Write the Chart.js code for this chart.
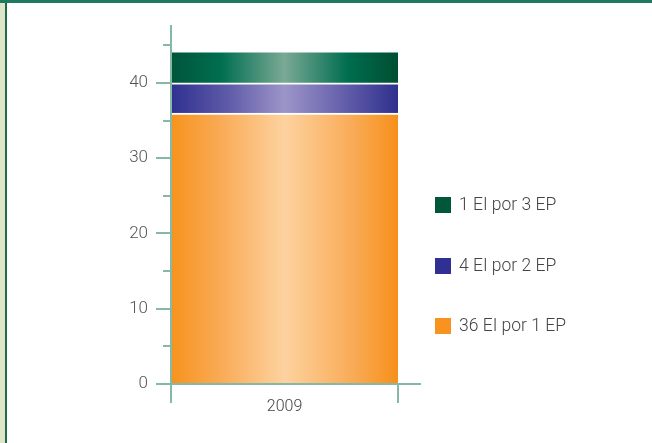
<!DOCTYPE html>
<html>
<head>
<meta charset="utf-8">
<script src="https://cdn.jsdelivr.net/npm/chart.js@4/dist/chart.umd.min.js"></script>
<style>
  html, body { margin: 0; padding: 0; background: #ffffff; }
  #wrap { width: 652px; height: 443px; position: relative; }
</style>
</head>
<body>
<div id="wrap"><canvas id="c" width="652" height="443"></canvas></div>
<script>
// Categories and series
const years = ['2009'];
const seriesLabels = ['36 EI por 1 EP', '4 EI por 2 EP', '1 EI por 3 EP'];
const ei36por1 = [36];
const ei4por2 = [4];
const ei1por3 = [4];
const yTickValues = [0, 5, 10, 15, 20, 25, 30, 35, 40, 45];

const AXIS = '#86b9a5';
const FONT = 'Roboto, "Liberation Sans", sans-serif';

// Horizontal shading across the bar: dark edges, light centre
function shade(stops) {
  return function (ctx) {
    const area = ctx.chart.chartArea;
    if (!area) return stops[0][1];
    const g = ctx.chart.ctx.createLinearGradient(area.left, 0, area.right, 0);
    stops.forEach(s => g.addColorStop(s[0], s[1]));
    return g;
  };
}

const orangeFill = shade([[0, '#f7931e'], [0.2, '#f9a851'], [0.5, '#fdd29f'], [0.8, '#f9ab57'], [1, '#f7901a']]);
const blueFill = shade([[0, '#2f3190'], [0.25, '#5f5aa8'], [0.5, '#9c95c9'], [0.75, '#6761ac'], [1, '#2e308d']]);
const greenFill = shade([[0, '#00553a'], [0.22, '#006e50'], [0.5, '#7aa995'], [0.78, '#006d4f'], [1, '#004e31']]);

// Page frame: green band on top, pale strip with a dark rule on the left
const framePlugin = {
  id: 'frame',
  beforeDraw(chart) {
    const c = chart.ctx;
    c.save();
    c.fillStyle = '#ffffff';
    c.fillRect(0, 0, chart.width, chart.height);
    c.fillStyle = '#dee5c9';
    c.fillRect(0, 0, 5, chart.height);
    c.fillStyle = '#1f6b47';
    c.fillRect(5, 0, 2, chart.height);
    c.fillStyle = '#1f7a5f';
    c.fillRect(0, 0, chart.width, 3);
    c.restore();
  }
};

// Axis lines and tick marks drawn from the scales
const axesPlugin = {
  id: 'axesLines',
  afterDatasetsDraw(chart) {
    const c = chart.ctx;
    const y = chart.scales.y;
    const area = chart.chartArea;
    const y0 = y.getPixelForValue(0);
    const xl = area.left, xr = area.right;
    c.save();
    c.strokeStyle = AXIS;
    c.lineWidth = 2;
    c.beginPath();
    // y axis
    c.moveTo(xl, area.top);
    c.lineTo(xl, y0 + 19);
    // x axis
    c.moveTo(xl - 15, y0);
    c.lineTo(xr + 23, y0);
    // category boundary tick at right
    c.moveTo(xr, y0);
    c.lineTo(xr, y0 + 19);
    // y ticks
    y.ticks.forEach(t => {
      if (t.value === 0) return;
      const py = Math.round(y.getPixelForValue(t.value));
      const len = (t.value % 10 === 0) ? 15 : 8;
      c.moveTo(xl - len, py);
      c.lineTo(xl, py);
    });
    c.stroke();
    c.restore();
  }
};

// Legend at the right, top series first
const legendPlugin = {
  id: 'sideLegend',
  afterDraw(chart) {
    const c = chart.ctx;
    const swatch = ['#f7931e', '#2e3192', '#00573a'];
    const rows = [326, 266, 205];
    c.save();
    c.font = '300 17.5px ' + FONT;
    c.textBaseline = 'middle';
    chart.data.datasets.forEach((ds, i) => {
      const cy = rows[i];
      c.fillStyle = swatch[i];
      c.fillRect(435, cy - 8, 16, 16);
      c.fillStyle = '#444444';
      c.fillText(ds.label, 459, cy + 1);
    });
    c.restore();
  }
};

new Chart(document.getElementById('c'), {
  type: 'bar',
  data: {
    labels: years,
    datasets: [
      { label: seriesLabels[0], data: ei36por1, backgroundColor: orangeFill,
        borderColor: '#ffffff', borderWidth: { top: 2, left: 0, right: 0, bottom: 0 }, borderSkipped: false },
      { label: seriesLabels[1], data: ei4por2, backgroundColor: blueFill,
        borderColor: '#ffffff', borderWidth: { top: 2, left: 0, right: 0, bottom: 0 }, borderSkipped: false },
      { label: seriesLabels[2], data: ei1por3, backgroundColor: greenFill, borderWidth: 0 }
    ]
  },
  options: {
    responsive: false,
    animation: false,
    layout: { padding: { left: 0, right: 254, top: 25, bottom: 0 } },
    datasets: { bar: { categoryPercentage: 1, barPercentage: 1 } },
    plugins: { legend: { display: false }, tooltip: { enabled: false } },
    scales: {
      x: {
        stacked: true,
        grid: { display: false, drawTicks: false },
        border: { display: false },
        ticks: { color: '#444444', font: { family: FONT, size: 16, weight: '300' }, padding: 13 },
        afterFit(s) { s.height = 59; s.paddingLeft = 0; s.paddingRight = 0; }
      },
      y: {
        stacked: true,
        min: 0,
        max: 47.7,
        grid: { display: false, drawTicks: false },
        border: { display: false },
        afterBuildTicks(s) { s.ticks = yTickValues.map(v => ({ value: v })); },
        ticks: {
          color: '#555555',
          font: { family: FONT, size: 17, weight: '300' },
          padding: 23,
          callback: v => (v % 10 === 0 ? String(v) : '')
        },
        afterFit(s) { s.width = 171; s.paddingTop = 0; s.paddingBottom = 0; }
      }
    }
  },
  plugins: [framePlugin, axesPlugin, legendPlugin]
});
</script>
</body>
</html>
